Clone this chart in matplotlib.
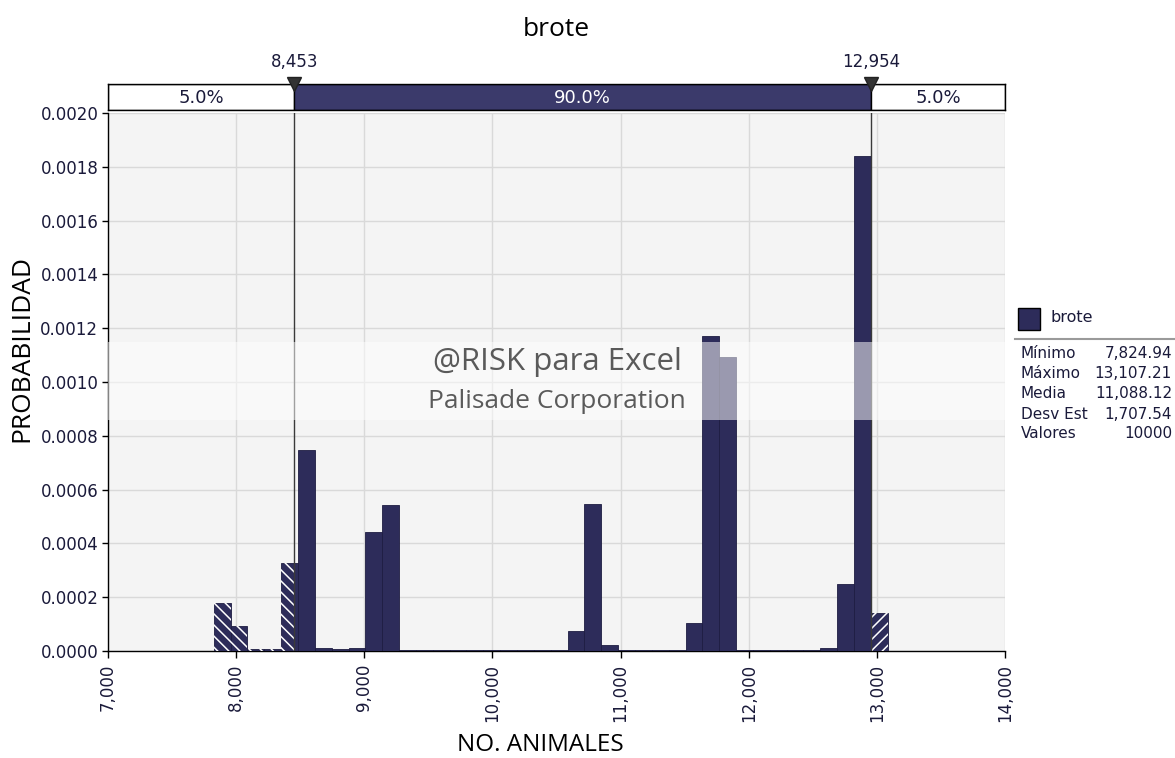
import matplotlib
matplotlib.use("Agg")
import matplotlib.pyplot as plt
from matplotlib.patches import Rectangle
from matplotlib.ticker import FuncFormatter

# ---------------- data ----------------
title = "brote"
x_label = "NO. ANIMALES"
y_label = "PROBABILIDAD"

bin_start = 7824.94
bin_width = 131.5
probabilities = [
    0.000178, 0.000093, 0.000006, 0.000006, 0.000327,
    0.000748, 0.000010, 0.000006, 0.000010, 0.000442,
    0.000543, 0.000002, 0.000002, 0.000002, 0.000002,
    0.000002, 0.000002, 0.000002, 0.000002, 0.000002,
    0.000002, 0.000073, 0.000547, 0.000022, 0.000003,
    0.000003, 0.000003, 0.000003, 0.000104, 0.001171,
    0.001093, 0.000003, 0.000003, 0.000003, 0.000003,
    0.000003, 0.000010, 0.000249, 0.001842, 0.000141,
]

left_delim = 8453
right_delim = 12954
left_delim_label = "8,453"
right_delim_label = "12,954"
left_pct = "5.0%"
mid_pct = "90.0%"
right_pct = "5.0%"

x_ticks = [7000, 8000, 9000, 10000, 11000, 12000, 13000, 14000]
y_ticks = [0.0, 0.0002, 0.0004, 0.0006, 0.0008, 0.0010, 0.0012, 0.0014, 0.0016, 0.0018, 0.0020]

stat_names = ["Mínimo", "Máximo", "Media", "Desv Est", "Valores"]
stat_values = ["7,824.94", "13,107.21", "11,088.12", "1,707.54", "10000"]

watermark_lines = ["@RISK para Excel", "Palisade Corporation"]

# ---------------- style ----------------
NAVY = "#2d2c5a"
NAVY_EDGE = "#1e1d42"
MID_BAR = "#3b3a6b"
BG = "#f4f4f4"
GRID = "#d9d9d9"
TXT = "#1a1a3a"
plt.rcParams["hatch.linewidth"] = 1.1

W, H = 1175, 758
fig = plt.figure(figsize=(W / 100, H / 100), dpi=100)

def fx(px):
    return px / W

def fy(py):
    return 1 - py / H

ax_l, ax_r, ax_t, ax_b = 108, 1005, 113, 651
ax = fig.add_axes([fx(ax_l), fy(ax_b), fx(ax_r - ax_l), (ax_b - ax_t) / H])
ax.set_facecolor(BG)
ax.set_xlim(x_ticks[0], x_ticks[-1])
ax.set_ylim(y_ticks[0], y_ticks[-1])

ax.set_xticks(x_ticks)
ax.set_yticks(y_ticks)
ax.xaxis.set_major_formatter(FuncFormatter(lambda v, p: f"{int(v):,}"))
ax.yaxis.set_major_formatter(FuncFormatter(lambda v, p: f"{v:.4f}"))
ax.grid(True, color=GRID, linewidth=1.0, zorder=0)
ax.set_axisbelow(True)
for s in ["top", "right"]:
    ax.spines[s].set_visible(False)
for s in ["left", "bottom"]:
    ax.spines[s].set_color("black")
    ax.spines[s].set_linewidth(1.0)
ax.tick_params(axis="x", rotation=90, length=5, width=1, labelsize=12,
               labelcolor=TXT, pad=4)
ax.tick_params(axis="y", length=4, width=1, labelsize=12, labelcolor=TXT, pad=3)
for lab in ax.get_xticklabels() + ax.get_yticklabels():
    lab.set_fontfamily("DejaVu Sans")

# bars (split at delimiters: tails hatched)
for i, p in enumerate(probabilities):
    lo = bin_start + i * bin_width
    hi = lo + bin_width
    segs = []
    if lo < left_delim:
        segs.append((lo, min(hi, left_delim), "\\\\\\"))
    a, b = max(lo, left_delim), min(hi, right_delim)
    if b > a:
        segs.append((a, b, None))
    if hi > right_delim:
        segs.append((max(lo, right_delim), hi, "///"))
    for a, b, h in segs:
        ax.bar(a, p, width=b - a, align="edge", color=NAVY, edgecolor=NAVY_EDGE,
               linewidth=0.6, zorder=3)
        if h:
            ax.bar(a, p, width=b - a, align="edge", facecolor="none",
                   edgecolor="white", hatch=h, linewidth=0, zorder=4)

# delimiter lines
for d in (left_delim, right_delim):
    ax.axvline(d, color="#3a3a3a", linewidth=1.0, zorder=5)

# watermark band
ax.axhspan(0.00086, 0.00115, color="white", alpha=0.52, linewidth=0, zorder=6)
wm_x = 10504
ax.text(wm_x, 0.001074, watermark_lines[0], ha="center", va="center",
        fontsize=22.5, color="#5a5a5a", family="Open Sans", zorder=7)
ax.text(wm_x, 0.000929, watermark_lines[1], ha="center", va="center",
        fontsize=19, color="#5a5a5a", family="Open Sans", zorder=7)

# labels
fig.text(fx(556), fy(30), title, ha="center", va="center", fontsize=19,
         family="Open Sans", color="black")
fig.text(fx(540), fy(745), x_label, ha="center", va="center", fontsize=17.5,
         family="Open Sans", color="black")
fig.text(fx(22), fy(349), y_label, ha="center", va="center", fontsize=19,
         family="Open Sans", color="black", rotation=90)

# delimiter bar above
bar_top, bar_bot = 84, 110
bx = fig.add_axes([fx(ax_l), fy(bar_bot), fx(ax_r - ax_l), (bar_bot - bar_top) / H])
bx.set_xlim(x_ticks[0], x_ticks[-1])
bx.set_ylim(0, 1)
bx.set_xticks([])
bx.set_yticks([])
for s in bx.spines.values():
    s.set_color("black")
    s.set_linewidth(1.0)
bx.add_patch(Rectangle((x_ticks[0], 0), left_delim - x_ticks[0], 1, facecolor="white",
                       edgecolor="black", linewidth=1))
bx.add_patch(Rectangle((left_delim, 0), right_delim - left_delim, 1, facecolor=MID_BAR,
                       edgecolor="black", linewidth=1))
bx.add_patch(Rectangle((right_delim, 0), x_ticks[-1] - right_delim, 1, facecolor="white",
                       edgecolor="black", linewidth=1))
bx.text((x_ticks[0] + left_delim) / 2, 0.45, left_pct, ha="center", va="center",
        fontsize=13, color=TXT, family="DejaVu Sans")
bx.text((left_delim + right_delim) / 2, 0.45, mid_pct, ha="center", va="center",
        fontsize=13, color="white", family="DejaVu Sans")
bx.text((right_delim + x_ticks[-1]) / 2, 0.45, right_pct, ha="center", va="center",
        fontsize=13, color=TXT, family="DejaVu Sans")
for d, lab in ((left_delim, left_delim_label), (right_delim, right_delim_label)):
    bx.plot([d], [1.0], marker="v", markersize=10, color="#333333",
            markeredgecolor="#222222", clip_on=False, zorder=10)
    bx.text(d, 1.85, lab, ha="center", va="center", fontsize=12,
            color=TXT, family="DejaVu Sans", clip_on=False)

# legend + stats
fig.patches.append(Rectangle((fx(1018), fy(330)), fx(22), 22 / H, facecolor=NAVY,
                             edgecolor="black", linewidth=1, transform=fig.transFigure))
fig.text(fx(1051), fy(318), title, ha="left", va="center", fontsize=11.5,
         family="DejaVu Sans", color=TXT)
fig.lines.append(plt.Line2D([fx(1015), fx(1175)], [fy(339), fy(339)],
                            color="#9a9a9a", linewidth=1.5, transform=fig.transFigure))
for k, (n, v) in enumerate(zip(stat_names, stat_values)):
    yy = fy(354 + 20 * k)
    fig.text(fx(1021), yy, n, ha="left", va="center", fontsize=11,
             family="DejaVu Sans", color=TXT)
    fig.text(fx(1172), yy, v, ha="right", va="center", fontsize=11,
             family="DejaVu Sans", color=TXT)

fig.savefig("out.png", dpi=100, facecolor="white")
